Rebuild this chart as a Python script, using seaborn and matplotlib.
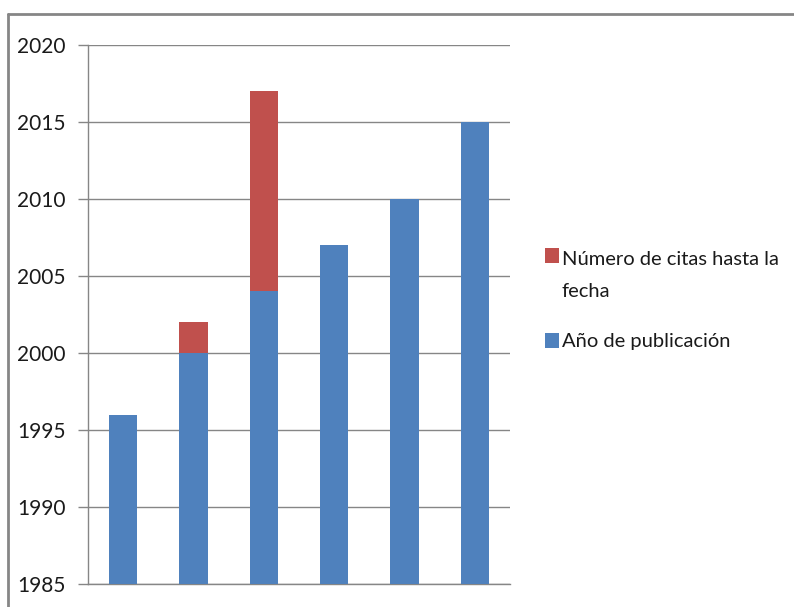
import matplotlib
matplotlib.use("Agg")
import matplotlib.pyplot as plt
import matplotlib.patches as mpatches
from matplotlib.lines import Line2D
import seaborn as sns
import pandas as pd

# values
articulos = ["A1", "A2", "A3", "A4", "A5", "A6"]
anio_publicacion = [1996, 2000, 2004, 2007, 2010, 2015]
citas = [0, 2, 13, 0, 0, 0]
y_ticks = [1985, 1990, 1995, 2000, 2005, 2010, 2015, 2020]
leyenda = ["Número de citas hasta la\nfecha", "Año de publicación"]

azul = "#4F81BD"
rojo = "#C0504D"
gris = "#868686"
texto = "#1a1a1a"

sns.set_style("white")
plt.rcParams["font.family"] = ["Lato", "DejaVu Sans"]

df = pd.DataFrame({"articulo": articulos,
                   "anio": anio_publicacion,
                   "citas": citas})
df["total"] = df["anio"] + df["citas"]

W, H = 794, 607
fig = plt.figure(figsize=(W / 100, H / 100), dpi=100)
ax = fig.add_axes([88 / W, 1 - 584 / H, 422 / W, 539 / H])

# stacked: draw the total in red, then the year in blue on top
sns.barplot(data=df, x="articulo", y="total", color=rojo, width=0.4,
            saturation=1, linewidth=0, ax=ax, zorder=3)
sns.barplot(data=df, x="articulo", y="anio", color=azul, width=0.4,
            saturation=1, linewidth=0, ax=ax, zorder=3)

ax.set_ylim(1985, 2020)
ax.set_xlim(-0.5, 5.5)
ax.set_yticks(y_ticks)
ax.set_xticks([])
ax.set_xlabel("")
ax.set_ylabel("")
ax.grid(axis="y", color=gris, lw=1, zorder=0)
ax.tick_params(axis="y", left=True, length=7, width=1, color=gris,
               pad=9, labelsize=15, labelcolor=texto)
for s in ["top", "right"]:
    ax.spines[s].set_visible(False)
for s in ["left", "bottom"]:
    ax.spines[s].set_color(gris)
    ax.spines[s].set_linewidth(1)

# legend drawn by hand so the wrapped label keeps Excel's spacing
def px(x, y):
    return x / W, 1 - y / H

for (x0, y0), col in [((545, 263), rojo), ((545, 348), azul)]:
    fig.add_artist(mpatches.Rectangle(px(x0, y0), 14 / W, 15 / H,
                                      transform=fig.transFigure,
                                      color=col, lw=0))
lineas = leyenda[0].split("\n") + [leyenda[1]]
for txt, base in zip(lineas, [265, 297, 347]):
    fig.text(*px(562, base), txt, fontsize=14.5, color=texto,
             ha="left", va="baseline")

# outer chart border (only top and left visible)
fig.add_artist(Line2D([8 / W, 1], [1 - 14 / H, 1 - 14 / H],
                      transform=fig.transFigure, color=gris, lw=2))
fig.add_artist(Line2D([8 / W, 8 / W], [0, 1 - 14 / H],
                      transform=fig.transFigure, color=gris, lw=2))

fig.savefig("out.png", dpi=100)
